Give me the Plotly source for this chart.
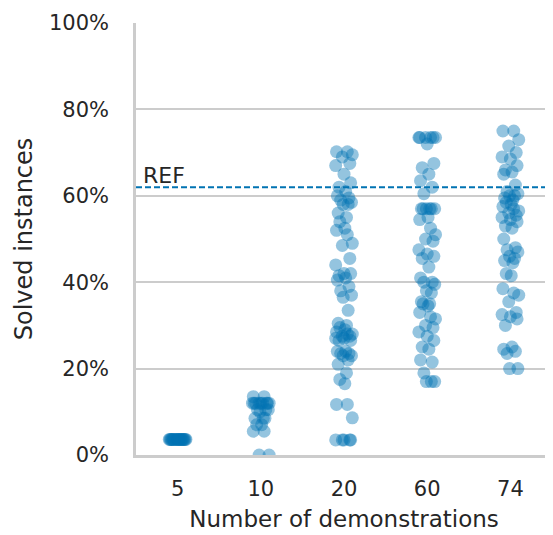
import plotly.graph_objects as go

# ------ data (solved instances, %) ------ #

demos = ["5", "10", "20", "60", "74"]

solved_5 = [3.6] * 20

solved_10 = [13.5, 13.5, 12, 12, 12, 12, 12, 12, 12, 12, 12, 10.5, 10.5, 10.5,
             10, 8.5, 8.5, 8.5, 7, 7, 5.5, 5.5, 0, 0]

solved_20 = [70.2, 70.2, 69.5, 69, 67.5, 67, 65, 63, 62, 61, 60, 59.5, 59, 58.5,
             58, 58, 56, 55, 54, 52.5, 52, 51, 49, 48.5, 45.5, 44, 42, 42, 41.5,
             41, 40.5, 39, 38, 37, 36.5, 33.5, 30.5, 30, 29.5, 29, 28.5, 28, 28,
             27.5, 27.5, 27, 27, 26.5, 26.5, 24, 24, 23.5, 23.5, 23, 23, 22, 21,
             19, 17.5, 16.5, 11.7, 11.7, 8.6, 3.5, 3.5, 3.5, 3.5, 3.5]

solved_60 = [73.5, 73.5, 73.5, 73.5, 73.5, 73.5, 72, 67.5, 66.5, 65, 63.5, 62,
             60.5, 57, 57, 57, 57, 57, 57, 55, 54.5, 52.5, 51, 50, 49.5, 47.5,
             46.5, 46, 45.5, 43.5, 41, 40, 40, 39.5, 38, 37.5, 35.5, 35, 35, 34.5,
             33, 32, 31.5, 30, 29.5, 28.5, 27.5, 26.5, 25, 24.5, 22, 21.5, 19,
             17, 17, 17]

solved_74 = [75, 75, 73, 71.5, 70, 69, 68.5, 67, 66, 65.5, 65, 62.5, 61, 60.5,
             60, 60, 59.5, 59, 58.5, 58, 57.5, 57, 56.5, 56, 55.5, 55, 54.5, 54,
             53, 52.5, 50, 48, 47.5, 47, 46, 45.5, 45, 44.5, 42, 41.5, 38.5, 37.5,
             37, 35.5, 33, 32.5, 32, 31.5, 30, 25, 24.5, 24, 23.5, 20, 20]

ref_value = 62
ref_label = "REF"

groups = [solved_5, solved_10, solved_20, solved_60, solved_74]

# fixed strip-plot jitter pattern (fraction of a category), cycled over points
jitter = [-0.09, 0.04, 0.10, -0.02, 0.07, -0.10, 0.00, 0.08, -0.06, 0.02,
          -0.08, 0.06, -0.04, 0.09, -0.01, 0.05, -0.07, 0.03, -0.05, 0.01]

x_vals = []
y_vals = []
for i, vals in enumerate(groups):
    for k, v in enumerate(vals):
        x_vals.append(i + jitter[k % len(jitter)])
        y_vals.append(v)

BLUE = "#0173b2"
GRID = "#cccccc"
TXT = "#262626"
FONT = "DejaVu Sans"

fig = go.Figure()
fig.add_trace(go.Scatter(
    x=x_vals, y=y_vals, mode="markers",
    marker=dict(color="rgba(1,115,178,0.42)", size=13, line=dict(width=0)),
    showlegend=False,
))

# reference line
fig.add_shape(type="line", xref="paper", x0=0, x1=1, yref="y", y0=ref_value, y1=ref_value,
              line=dict(color=BLUE, width=2, dash="6px,3px"))
fig.add_annotation(xref="paper", x=0.012, yref="y", y=ref_value, text=ref_label,
                   showarrow=False, xanchor="left", yanchor="bottom", yshift=-3,
                   font=dict(family=FONT, size=22, color=TXT))

# page body has an 8px margin, so the figure is 8px smaller than the window
fig.update_layout(
    width=545, height=527,
    margin=dict(l=128, r=1, t=15, b=80),
    plot_bgcolor="white", paper_bgcolor="white",
    font=dict(family=FONT, color=TXT),
)
fig.update_xaxes(range=[-0.5, 4.5], tickvals=list(range(len(demos))), ticktext=demos,
                 showgrid=False, showline=True, linecolor=GRID, zeroline=False,
                 linewidth=2.5, ticks="outside", ticklen=13, tickcolor="rgba(0,0,0,0)",
                 automargin=False,
                 tickfont=dict(size=21, family=FONT, color=TXT),
                 title=dict(text="Number of demonstrations", font=dict(size=23, family=FONT, color=TXT),
                            standoff=11))
fig.update_yaxes(range=[0, 100], tickvals=[0, 20, 40, 60, 80, 100],
                 ticktext=["0%", "20%", "40%", "60%", "80%", "100%"],
                 showgrid=True, gridcolor=GRID, gridwidth=2,
                 showline=True, linecolor=GRID, linewidth=2.5, zeroline=False,
                 ticks="outside", ticklen=20, tickcolor="rgba(0,0,0,0)",
                 automargin=False,
                 tickfont=dict(size=21, family=FONT, color=TXT),
                 title=dict(text="Solved instances", font=dict(size=24, family=FONT, color=TXT),
                            standoff=10))

fig.write_html("out.html")
